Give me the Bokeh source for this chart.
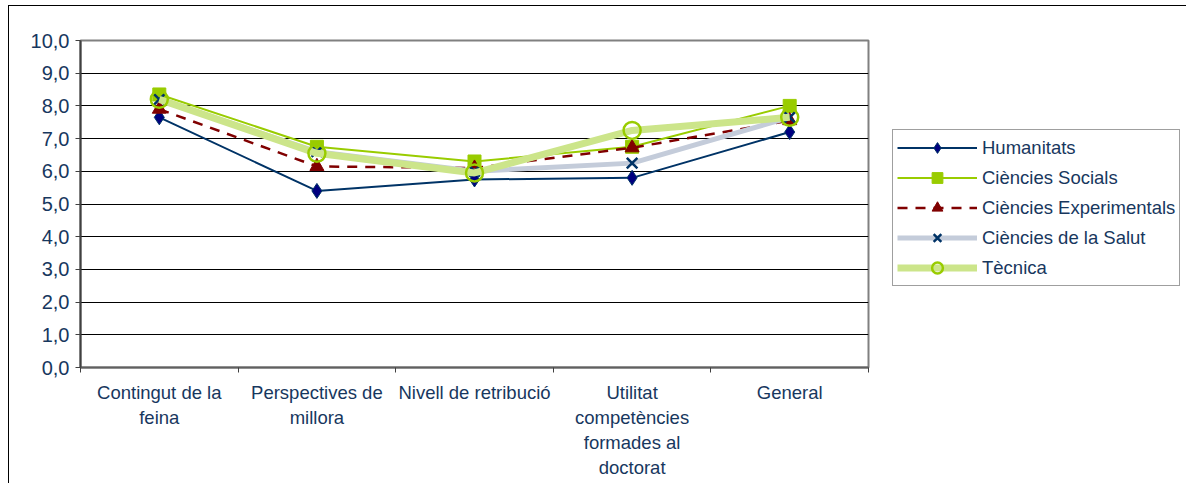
from bokeh.plotting import figure
from bokeh.models import FixedTicker, Legend, LegendItem
from bokeh.embed import file_html
from bokeh.resources import INLINE

categories = ["Contingut de la\nfeina", "Perspectives de\nmillora", "Nivell de retribució",
              "Utilitat\ncompetències\nformades al\ndoctorat", "General"]
humanitats = [7.65, 5.40, 5.75, 5.80, 7.20]
socials = [8.35, 6.75, 6.30, 6.75, 8.00]
experimentals = [7.90, 6.15, 6.10, 6.72, 7.55]
salut = [8.20, 6.60, 6.00, 6.25, 7.65]
tecnica = [8.20, 6.55, 5.95, 7.25, 7.65]
y_ticks = [0, 1, 2, 3, 4, 5, 6, 7, 8, 9, 10]

FONT = "Liberation Sans"
TXT = "#17375E"

x = [i + 0.5 for i in range(len(categories))]

p = figure(frame_width=788, frame_height=327, output_backend="svg", toolbar_location=None,
           x_range=(0, len(categories)), y_range=(0, 10),
           min_border_left=71, min_border_right=0, min_border_top=34, min_border_bottom=116)
p.styles = {"margin-left": "8px", "margin-top": "5px",
            "border-left": "1px solid black", "border-top": "1px solid black"}
p.background_fill_color = "white"
p.border_fill_color = "white"
p.outline_line_color = "#808080"
p.outline_line_width = 2

p.xgrid.grid_line_color = None
p.ygrid.grid_line_color = "black"
p.ygrid.grid_line_width = 1
p.ygrid.ticker = FixedTicker(ticks=y_ticks)

p.xaxis.ticker = FixedTicker(ticks=x, minor_ticks=list(range(len(categories) + 1)))
p.xaxis.major_label_overrides = {v: c for v, c in zip(x, categories)}
p.xaxis.major_tick_line_color = None
p.xaxis.minor_tick_out = 5
p.xaxis.minor_tick_in = 0
p.xaxis.minor_tick_line_color = "#404040"
p.xaxis.axis_line_color = "#606060"
p.xaxis.axis_line_width = 2
p.xaxis.major_label_text_font = FONT
p.xaxis.major_label_text_font_size = "18.5px"
p.xaxis.major_label_text_color = TXT
p.xaxis.major_label_standoff = 8
p.xaxis.major_label_text_line_height = 1.2

p.yaxis.ticker = FixedTicker(ticks=y_ticks)
p.yaxis.major_label_overrides = {t: f"{t},0" for t in y_ticks}
p.yaxis.minor_tick_line_color = None
p.yaxis.major_tick_out = 5
p.yaxis.major_tick_in = 0
p.yaxis.major_tick_line_color = "#404040"
p.yaxis.axis_line_color = "#404040"
p.yaxis.axis_line_width = 2
p.yaxis.major_label_text_font = FONT
p.yaxis.major_label_text_font_size = "20px"
p.yaxis.major_label_text_color = TXT
p.yaxis.major_label_standoff = 6

items = []

r1 = p.line(x, humanitats, line_color="#003366", line_width=2)
m1 = p.scatter(x, humanitats, marker="diamond", size=15, fill_color="#000080", line_color="#003366")
items.append(LegendItem(label="Humanitats", renderers=[r1, m1]))

r2 = p.line(x, socials, line_color="#99CC00", line_width=2)
m2 = p.scatter(x, socials, marker="square", size=13, fill_color="#99CC00", line_color="#99CC00")
items.append(LegendItem(label="Ciències Socials", renderers=[r2, m2]))

r3 = p.line(x, experimentals, line_color="#800000", line_width=2.5, line_dash="10 8")
m3 = p.scatter(x, experimentals, marker="triangle", size=14, fill_color="#800000", line_color="#800000")
items.append(LegendItem(label="Ciències Experimentals", renderers=[r3, m3]))

r4 = p.line(x, salut, line_color="#C4CCDA", line_width=5)
m4 = p.scatter(x, salut, marker="x", size=15, line_color="#003366", line_width=2.5)
items.append(LegendItem(label="Ciències de la Salut", renderers=[r4, m4]))

r5 = p.line(x, tecnica, line_color="#CCE58A", line_width=7)
m5 = p.scatter(x, tecnica, marker="circle", size=17, fill_color=None, line_color="#99CC00", line_width=2.5)
items.append(LegendItem(label="Tècnica", renderers=[r5, m5]))

legend = Legend(items=items, location=(24, 81))
legend.border_line_color = "#404040"
legend.border_line_width = 1
legend.background_fill_color = "white"
legend.background_fill_alpha = 1
legend.label_text_font = FONT
legend.label_text_font_size = "18.5px"
legend.label_text_color = TXT
legend.glyph_width = 80
legend.glyph_height = 27
legend.spacing = 3
legend.padding = 4
legend.margin = 0
legend.label_standoff = 5
p.add_layout(legend, "right")

open("out.html", "w").write(file_html(p, INLINE))
